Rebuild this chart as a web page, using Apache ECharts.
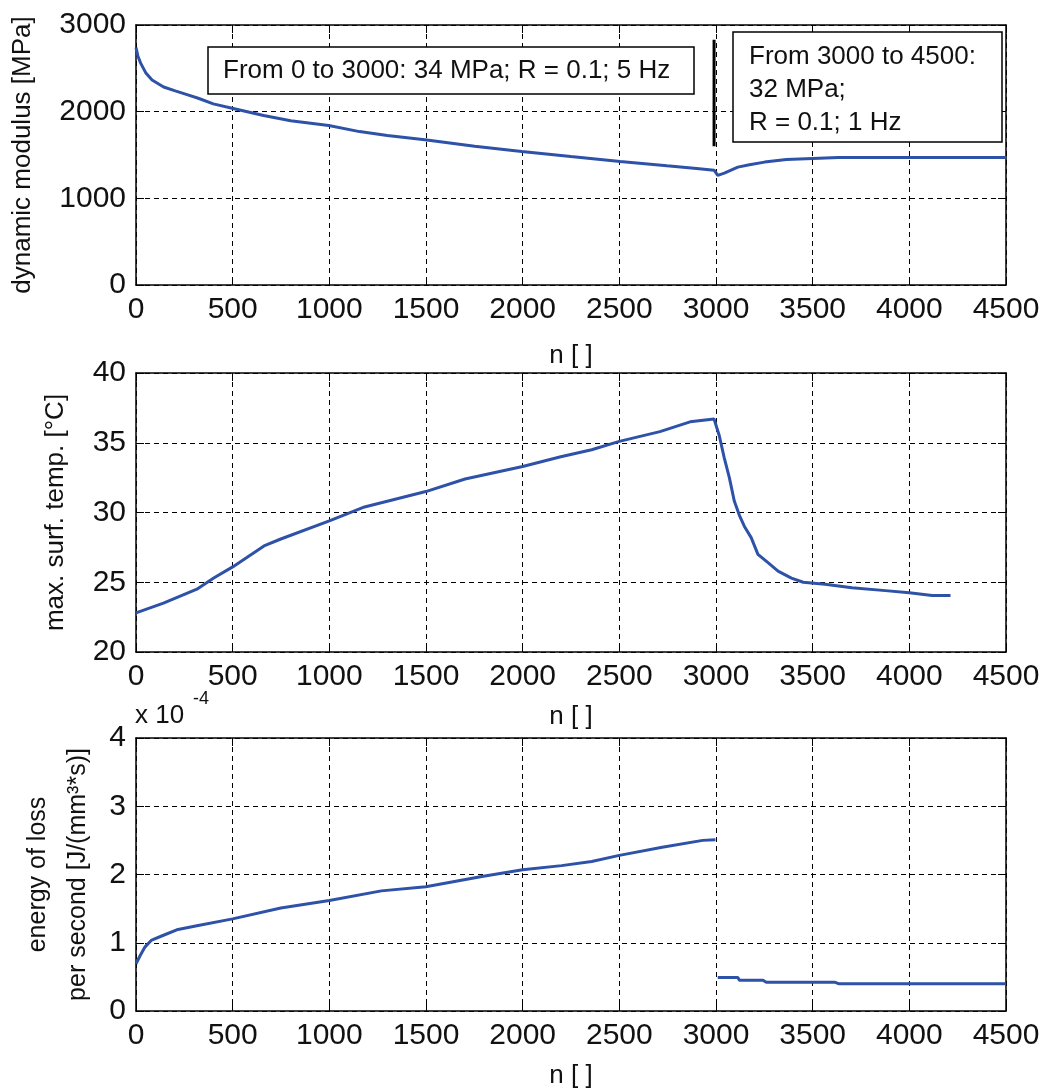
<!DOCTYPE html>
<html><head><meta charset="utf-8">
<script src="https://cdn.jsdelivr.net/npm/echarts@6/dist/echarts.min.js"></script>
<style>html,body{margin:0;padding:0;background:#fff}#c{width:1045px;height:1090px}</style>
</head><body><div id="c"></div>
<script>
// ---- data ----
const topN       = [0,10,24,50,83,143,203,260,322,400,497,660,800,997,1156,1300,1494,1752,1995,2249,2504,2746,2900,2990,3009,3043,3113,3173,3251,3364,3500,3633,4000,4500];
const topModulus = [2740,2640,2560,2450,2365,2285,2240,2200,2155,2090,2040,1955,1895,1840,1770,1725,1675,1600,1540,1482,1425,1375,1345,1325,1265,1290,1360,1388,1418,1448,1460,1470,1470,1470];

const midN    = [0,142,315,402,500,662,749,1000,1182,1499,1702,2000,2197,2357,2500,2710,2866,2990,3017,3043,3069,3095,3121,3147,3182,3217,3269,3321,3390,3451,3564,3703,3876,4000,4118,4213];
const midTemp = [22.8,23.5,24.5,25.3,26.1,27.6,28.1,29.4,30.4,31.5,32.4,33.3,34.0,34.5,35.1,35.8,36.5,36.7,35.5,33.9,32.5,30.8,29.8,29.0,28.2,27.0,26.4,25.8,25.3,25.0,24.85,24.6,24.4,24.25,24.05,24.05];

// energy values in units of 1e-4 J/(mm^3*s); null = gap in the line
const botN      = [0,21,47,81,142,211,315,500,749,1000,1269,1499,1789,2000,2201,2357,2500,2722,2931,2997,3000,3009,3113,3121,3243,3260,3616,3634,4500];
const botEnergy = [0.69,0.81,0.94,1.04,1.11,1.19,1.25,1.35,1.51,1.62,1.76,1.82,1.97,2.07,2.13,2.19,2.28,2.40,2.50,2.51,null,0.49,0.49,0.45,0.45,0.42,0.42,0.40,0.40];

// vertical marker at the change of loading
const markerN = [2990, 2990];
const markerModulus = [1600, 2830];

const xTick = {min:0, max:4500, interval:500};
const yTicks = [{min:0,max:3000,interval:1000},{min:20,max:40,interval:5},{min:0,max:4,interval:1}];
const yNames = ['dynamic modulus [MPa]','max. surf. temp. [°C]','energy of loss\nper second [J/(mm³*s)]'];
const xName = 'n [ ]';
const box1Text = 'From 0 to 3000: 34 MPa; R = 0.1; 5 Hz';
const box2Text = 'From 3000 to 4500:\n32 MPa;\nR = 0.1; 1 Hz';

// ---- chart ----
const FONT = '"Liberation Sans", Arial, Helvetica, sans-serif';
const TXT = '#111';
const BLUE = '#2e52a8';
const pair = (xs, ys) => xs.map((x,i)=> ys[i]===null ? [x,'-'] : [x, ys[i]]);
const plain = v => String(Math.round(v*1000)/1000);

const grids = [
  {left:136, top:25,  width:870, height:260},
  {left:136, top:373, width:870, height:279},
  {left:136, top:738, width:870, height:273}
].map(g => Object.assign(g, {containLabel:false, outerBoundsMode:'none'}));
const xNameGaps = [58, 52, 52];
const yNameGaps = [93, 60, 35];

const axLine = {show:true, onZero:false, lineStyle:{color:'#000', width:1.5}};
const axTick = {show:true, inside:true, length:8, lineStyle:{color:'#000', width:1}};
const split = {show:true, lineStyle:{color:'#000', type:[5,4], width:1}};

const xAxis = [], yAxis = [];
grids.forEach((g,i)=>{
  xAxis.push({type:'value', gridIndex:i, position:'bottom', ...xTick,
    name:xName, nameLocation:'middle', nameGap:xNameGaps[i],
    nameTextStyle:{fontSize:26, fontFamily:FONT, color:TXT},
    axisLine:axLine, axisTick:axTick,
    axisLabel:{fontSize:30, fontFamily:FONT, color:TXT, margin:10, formatter:plain, hideOverlap:false},
    splitLine:split});
  xAxis.push({type:'value', gridIndex:i, position:'top', ...xTick,
    axisLine:axLine, axisTick:axTick, axisLabel:{show:false}, splitLine:{show:false}});
  yAxis.push({type:'value', gridIndex:i, position:'left', ...yTicks[i],
    name:yNames[i], nameLocation:'middle', nameGap:yNameGaps[i],
    nameTextStyle:{fontSize:i===2?25:26, fontFamily:FONT, color:TXT, lineHeight:40},
    axisLine:axLine, axisTick:axTick,
    axisLabel:{fontSize:30, fontFamily:FONT, color:TXT, margin:10, formatter:plain},
    splitLine:split});
  yAxis.push({type:'value', gridIndex:i, position:'right', ...yTicks[i],
    axisLine:axLine, axisTick:axTick, axisLabel:{show:false}, splitLine:{show:false}});
});

const lineSeries = (idx, data) => ({type:'line', xAxisIndex:idx*2, yAxisIndex:idx*2, data,
  showSymbol:false, symbol:'none', connectNulls:false, animation:false,
  lineStyle:{color:BLUE, width:3}, z:5});

const option = {
  animation:false,
  backgroundColor:'#fff',
  grid:grids,
  xAxis, yAxis,
  series:[
    lineSeries(0, pair(topN, topModulus)),
    lineSeries(1, pair(midN, midTemp)),
    lineSeries(2, pair(botN, botEnergy)),
    {type:'line', xAxisIndex:0, yAxisIndex:0, data:pair(markerN, markerModulus),
     showSymbol:false, symbol:'none', lineStyle:{color:'#000', width:3}, z:6}
  ],
  graphic:[
    {type:'rect', z:100, shape:{x:208, y:47, width:486, height:47},
     style:{fill:'#fff', stroke:'#000', lineWidth:1.5}},
    {type:'text', z:101, x:223, y:71,
     style:{text:box1Text, font:'26px '+FONT, fill:TXT, verticalAlign:'middle'}},
    {type:'rect', z:100, shape:{x:733, y:32, width:269, height:110},
     style:{fill:'#fff', stroke:'#000', lineWidth:1.5}},
    {type:'text', z:101, x:749, y:90,
     style:{text:box2Text, font:'26px '+FONT, fill:TXT, verticalAlign:'middle', lineHeight:33}},
    {type:'text', z:101, x:135, y:716,
     style:{text:'x 10', font:'26px '+FONT, fill:TXT, verticalAlign:'middle'}},
    {type:'text', z:101, x:193, y:699,
     style:{text:'-4', font:'18px '+FONT, fill:TXT, verticalAlign:'middle'}}
  ]
};
const chart = echarts.init(document.getElementById('c'));
chart.setOption(option);
</script>
</body></html>
